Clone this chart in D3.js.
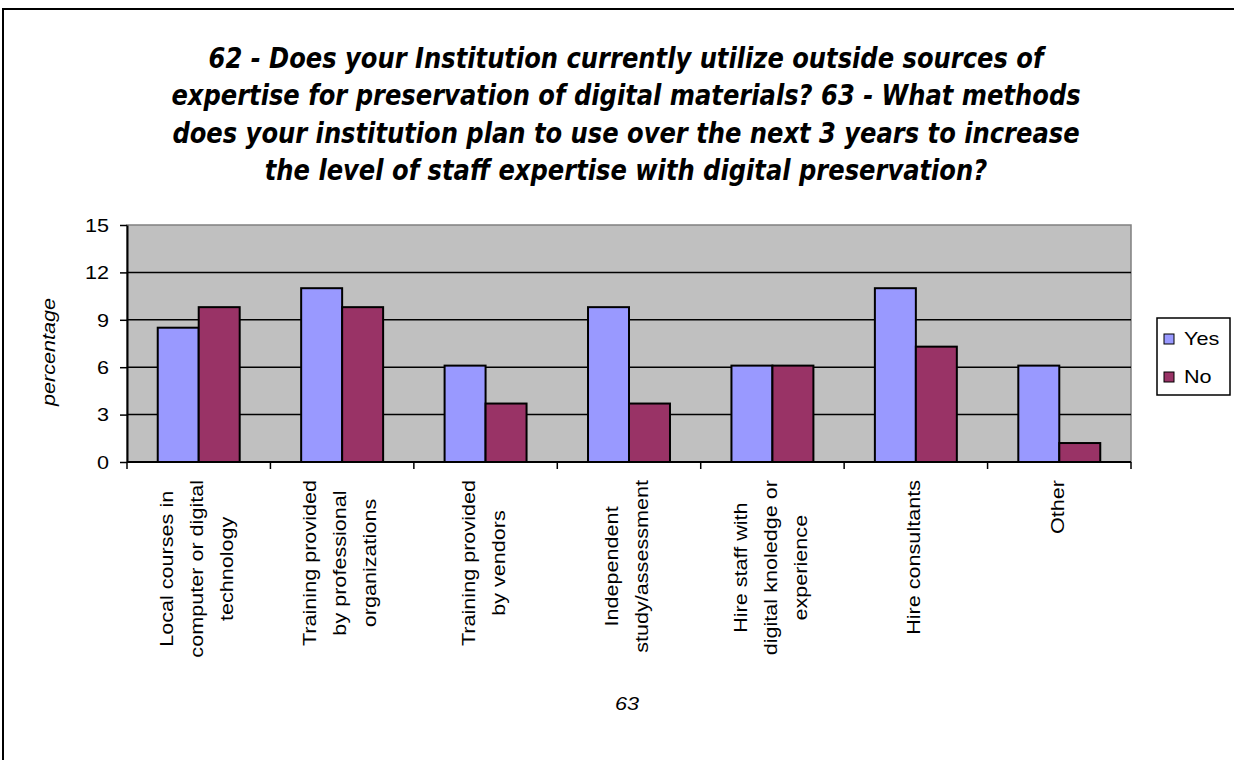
<!DOCTYPE html>
<html>
<head>
<meta charset="utf-8">
<script src="https://cdn.jsdelivr.net/npm/d3@7"></script>
<style>
  body { margin: 0; background: #fff; }
</style>
</head>
<body>
<div id="chart"></div>
<script>
// data
var categories = ["local", "professional", "vendors", "independent", "hire_staff", "consultants", "other"];
var categoryLines = [
    ["Local courses in", "computer or digital", "technology"],
    ["Training provided", "by professional", "organizations"],
    ["Training provided", "by vendors"],
    ["Independent", "study/assessment"],
    ["Hire staff with", "digital knoledge or", "experience"],
    ["Hire consultants"],
    ["Other"]
];
var seriesNames = ["Yes", "No"];
var yesValues = [8.5, 11.0, 6.1, 9.8, 6.1, 11.0, 6.1];
var noValues = [9.8, 9.8, 3.7, 3.7, 6.1, 7.3, 1.2];
var yTicks = [0, 3, 6, 9, 12, 15];
var titleLines = [
    "62 - Does your Institution currently utilize outside sources of",
    "expertise for preservation of digital materials? 63 - What methods",
    "does your institution plan to use over the next 3 years to increase",
    "the level of staff expertise with digital preservation?"
];
var yLabel = "percentage";
var xLabel = "63";

var width = 1234, height = 760;
var plotLeft = 127, plotRight = 1131, plotTop = 225, plotBottom = 462;
var colors = {"Yes": "#9999ff", "No": "#993366"};
var axisFont = "'Liberation Sans', Arial, sans-serif";
var stretch = 1.2; // text in the picture runs wider than Arial

var svg = d3.select("#chart").append("svg")
    .attr("width", width)
    .attr("height", height);

// outer chart border
svg.append("rect")
    .attr("x", 3).attr("y", 9)
    .attr("width", 1300).attr("height", 800)
    .style("fill", "#fff")
    .style("stroke", "#000")
    .style("stroke-width", 2);

// title
var titleG = svg.append("g");
titleLines.forEach(function(t, i){
    titleG.append("g")
        .attr("transform", "translate(626," + (68 + i*37.3) + ") scale(0.865,1)")
        .append("text")
        .text(t)
        .attr("text-anchor", "middle")
        .style("font-family", "'DejaVu Sans', Verdana, sans-serif")
        .style("font-weight", "bold")
        .style("font-style", "italic")
        .style("font-size", "28px")
        .style("fill", "#000");
});

var x0 = d3.scaleBand().domain(categories).range([plotLeft, plotRight]).padding(0);
var x1 = d3.scaleBand().domain(seriesNames).range([0, x0.bandwidth()])
    .paddingInner(0).paddingOuter(0.75);
var y = d3.scaleLinear().domain([0, 15]).range([plotBottom, plotTop]);

// plot area
svg.append("rect")
    .attr("x", plotLeft).attr("y", plotTop)
    .attr("width", plotRight - plotLeft).attr("height", plotBottom - plotTop)
    .style("fill", "#c0c0c0")
    .style("stroke", "#808080")
    .style("stroke-width", 1.5);

// gridlines
svg.selectAll(".grid")
    .data(yTicks.filter(function(d){ return d > 0 && d < 15; }))
    .enter().append("line")
    .attr("class", "grid")
    .attr("x1", plotLeft).attr("x2", plotRight)
    .attr("y1", function(d){ return y(d); })
    .attr("y2", function(d){ return y(d); })
    .style("stroke", "#000")
    .style("stroke-width", 1.5);

// bars
var rows = categories.map(function(c, i){
    return {cat: c, vals: [{s: "Yes", v: yesValues[i]}, {s: "No", v: noValues[i]}]};
});
var groups = svg.selectAll(".cat")
    .data(rows)
    .enter().append("g")
    .attr("class", "cat")
    .attr("transform", function(d){ return "translate(" + x0(d.cat) + ",0)"; });
groups.selectAll("rect")
    .data(function(d){ return d.vals; })
    .enter().append("rect")
    .attr("x", function(d){ return x1(d.s); })
    .attr("width", x1.bandwidth())
    .attr("y", function(d){ return y(d.v); })
    .attr("height", function(d){ return y(0) - y(d.v); })
    .style("fill", function(d){ return colors[d.s]; })
    .style("stroke", "#000")
    .style("stroke-width", 2);

// y axis
var yAxis = svg.append("g")
    .attr("transform", "translate(" + plotLeft + ",0)")
    .call(d3.axisLeft(y).tickValues(yTicks).tickSize(7).tickSizeOuter(0));
yAxis.select(".domain").style("stroke", "#000").style("stroke-width", 2);
yAxis.selectAll(".tick line").style("stroke", "#000").style("stroke-width", 1.5);
yAxis.selectAll(".tick text")
    .attr("x", null).attr("dy", "0.35em")
    .attr("transform", "translate(-18,0) scale(" + stretch + ",1)")
    .attr("text-anchor", "end")
    .style("font-family", axisFont)
    .style("font-size", "18px")
    .style("fill", "#000");

// x axis: ticks between categories
svg.append("line")
    .attr("x1", plotLeft).attr("x2", plotRight)
    .attr("y1", plotBottom).attr("y2", plotBottom)
    .style("stroke", "#000").style("stroke-width", 2);
var bounds = categories.map(function(c){ return x0(c); }).concat([plotRight]);
svg.selectAll(".xtick")
    .data(bounds)
    .enter().append("line")
    .attr("class", "xtick")
    .attr("x1", function(d){ return d; }).attr("x2", function(d){ return d; })
    .attr("y1", plotBottom).attr("y2", plotBottom + 7)
    .style("stroke", "#000").style("stroke-width", 1.5);

// x category labels, rotated
categories.forEach(function(c, i){
    var lines = categoryLines[i];
    var cx = x0(c) + x0.bandwidth()/2 - 2;
    var g = svg.append("g")
        .attr("transform", "translate(" + cx + ",480) rotate(-90) scale(" + stretch + ",1)");
    var texts = g.selectAll("text")
        .data(lines)
        .enter().append("text")
        .text(function(d){ return d; })
        .attr("text-anchor", "middle")
        .attr("dy", "0.35em")
        .attr("y", function(d, j){ return (j - (lines.length - 1)/2) * 30; })
        .style("font-family", axisFont)
        .style("font-size", "18px")
        .style("fill", "#000");
    var maxW = d3.max(texts.nodes(), function(n){ return n.getComputedTextLength(); });
    texts.attr("x", -maxW/2);
});

// axis titles
svg.append("g")
    .attr("transform", "translate(49,352) rotate(-90) scale(" + stretch + ",1)")
    .append("text")
    .text(yLabel)
    .attr("text-anchor", "middle")
    .attr("dy", "0.35em")
    .style("font-family", axisFont)
    .style("font-style", "italic")
    .style("font-size", "18px");

svg.append("g")
    .attr("transform", "translate(627,710) scale(" + stretch + ",1)")
    .append("text")
    .text(xLabel)
    .attr("text-anchor", "middle")
    .style("font-family", axisFont)
    .style("font-style", "italic")
    .style("font-size", "18px");

// legend
var legend = svg.append("g").attr("transform", "translate(1157,318)");
legend.append("rect")
    .attr("width", 73).attr("height", 77)
    .style("fill", "#fff")
    .style("stroke", "#000")
    .style("stroke-width", 1.5);
var items = legend.selectAll(".item")
    .data(seriesNames)
    .enter().append("g")
    .attr("class", "item")
    .attr("transform", function(d, i){ return "translate(7," + (21 + i*38) + ")"; });
items.append("rect")
    .attr("x", 0).attr("y", -5)
    .attr("width", 10).attr("height", 10)
    .style("fill", function(d){ return colors[d]; })
    .style("stroke", "#000")
    .style("stroke-width", 1);
items.append("g")
    .attr("transform", "translate(20,0) scale(" + stretch + ",1)")
    .append("text")
    .text(function(d){ return d; })
    .attr("dy", "0.35em")
    .style("font-family", axisFont)
    .style("font-size", "18px");
</script>
</body>
</html>
